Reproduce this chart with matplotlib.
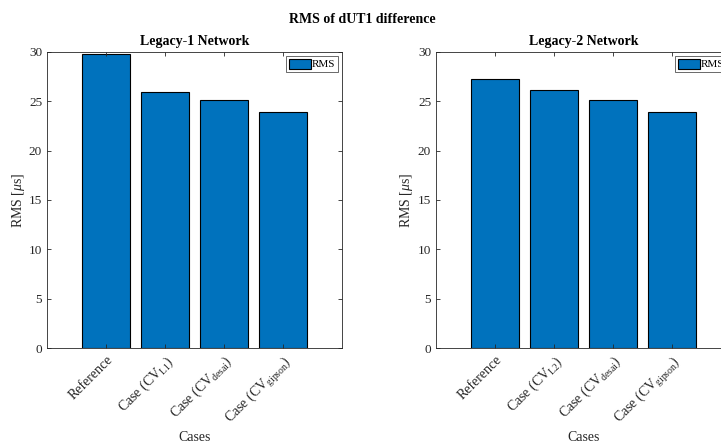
import matplotlib
matplotlib.use("Agg")
import matplotlib.pyplot as plt

plt.rcParams['font.family'] = ['Liberation Serif', 'DejaVu Serif']
plt.rcParams['mathtext.fontset'] = 'custom'
plt.rcParams['mathtext.rm'] = 'Liberation Serif'
plt.rcParams['mathtext.it'] = 'Liberation Serif:italic'

labels_1 = ['Reference', 'Case (CV$_{\\rm L1}$)', 'Case (CV$_{\\rm desai}$)', 'Case (CV$_{\\rm gipson}$)']
labels_2 = ['Reference', 'Case (CV$_{\\rm L2}$)', 'Case (CV$_{\\rm desai}$)', 'Case (CV$_{\\rm gipson}$)']
rms_1 = [29.8, 25.9, 25.1, 23.9]
rms_2 = [27.3, 26.1, 25.1, 23.9]
titles = ['Legacy-1 Network', 'Legacy-2 Network']
yticks = [0, 5, 10, 15, 20, 25, 30]

fig = plt.figure(figsize=(7.21, 4.44), dpi=100)
fig.text(0.503, 0.957, 'RMS of dUT1 difference', ha='center', va='center',
         fontsize=10, fontweight='bold')

lefts = [47/721, 436/721]
ylab_x = [-0.068, -0.071]
dark = '#262626'
for left, lx, labels, vals, title in zip(lefts, ylab_x, [labels_1, labels_2], [rms_1, rms_2], titles):
    ax = fig.add_axes([left, 96/444, 295/721, 296/444])
    x = list(range(1, len(vals) + 1))
    ax.bar(x, vals, width=0.8, color='#0072BD', edgecolor='black', linewidth=0.8, label='RMS')
    ax.set_xlim(0, 5)
    ax.set_ylim(0, 30)
    ax.set_xticks(x)
    ax.set_xticklabels(labels, rotation=45, ha='right', rotation_mode='anchor', fontsize=10, color=dark)
    ax.set_yticks(yticks)
    ax.tick_params(axis='y', labelsize=9.5, colors=dark)
    ax.tick_params(direction='in', top=True, right=True, length=3, width=0.6, color=dark)
    for s in ax.spines.values():
        s.set_linewidth(0.6)
        s.set_color(dark)
    ax.set_title(title, fontsize=10, fontweight='bold', pad=5)
    ax.set_ylabel('RMS [$\\mu$s]', fontsize=10, color=dark)
    ax.yaxis.set_label_coords(lx, 0.5)
    ax.set_xlabel('Cases', fontsize=10, color=dark)
    ax.xaxis.set_label_coords(0.5, -0.28)
    leg = ax.legend(loc='upper right', fontsize=8, frameon=True, fancybox=False,
                    handlelength=2.0, handleheight=1.0, borderpad=0.2, handletextpad=0.1,
                    borderaxespad=0.4)
    leg.get_frame().set_edgecolor(dark)
    leg.get_frame().set_linewidth(0.6)

fig.savefig('out.png', dpi=100)
